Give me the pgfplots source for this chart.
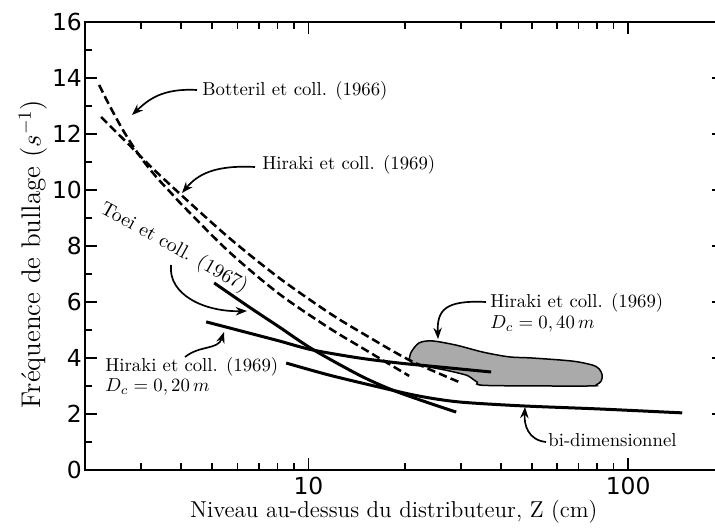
\documentclass[border=0pt]{standalone}
\usepackage{fontspec}
\usepackage{pgfplots}
\pgfplotsset{compat=1.18}
\usetikzlibrary{arrows.meta}
\newfontfamily\dejavu{DejaVu Sans}
\definecolor{blobgray}{RGB}{170,170,170}
\begin{document}
\begin{tikzpicture}
\begin{axis}[
  at={(0,0)}, anchor=south west,
  scale only axis, width=341.2pt, height=239.06pt,
  xmode=log, xmin=2, xmax=200, ymin=0, ymax=16,
  xtick={10,100}, xticklabels={10,100},
  minor xtick={3,4,5,6,7,8,9,20,30,40,50,60,70,80,90},
  ytick={0,2,...,16}, minor ytick={1,3,...,15},
  tick align=inside,
  major tick length=6.5pt, minor tick length=3.5pt,
  every tick/.style={black, line width=0.9pt},
  axis line style={line width=0.9pt},
  /pgf/number format/assume math mode=true,
  tick label style={font=\dejavu\fontsize{12.5}{14}\selectfont},
  yticklabel style={inner xsep=1.5pt},
  xlabel={Niveau au-dessus du distributeur, Z (cm)},
  ylabel={Fréquence de bullage ($s^{-1}$)},
  xlabel style={font=\fontsize{12.3}{15}\selectfont, at={(axis description cs:0.483,-0.0937)}, anchor=center},
  ylabel style={font=\fontsize{14.4}{17}\selectfont, at={(axis description cs:-0.0813,0.482)}, anchor=center},
]
% Hiraki et coll. (1969), D_c = 0,40 m (zone)
\addplot[fill=blobgray, draw=black, line width=0.8pt, smooth, tension=0.5] coordinates {
(20.65,3.93) (20.95,4.21) (22.19,4.54) (24.37,4.61) (28.97,4.46) (35.14,4.21)
(42.45,4.04) (50.09,4.0) (66.81,3.89) (77.18,3.75) (81.16,3.61) (82.92,3.39)
(82.33,3.18) (79.43,3.04) (74.44,3.0) (35.96,3.02) (33.71,3.14) (32.28,3.29) (31.14,3.39)
(27.55,3.54) (23.85,3.68) (21.10,3.82)} -- cycle;
% Botteril et coll. (1966)
\addplot[black, line width=1.35pt, dash pattern=on 4.5pt off 2.2pt, smooth] coordinates {
(2.214,13.75) (2.380,13.04) (2.595,12.25) (2.809,11.61) (3.062,11.0) (3.363,10.43)
(3.720,9.89) (4.085,9.39) (5.648,7.79) (8.095,6.29) (11.61,5.07) (14.72,4.36) (20.65,3.36)};
% Hiraki et coll. (1969)
\addplot[black, line width=1.35pt, dash pattern=on 4.5pt off 2.2pt, smooth] coordinates {
(2.246,12.61) (2.468,12.14) (2.750,11.61) (3.176,10.89) (3.940,9.89) (5.648,8.29)
(8.095,6.86) (11.61,5.61) (14.72,4.89) (20.65,3.93) (29.61,3.14)};
% Toei et coll. (1967)
\addplot[black, line width=1.6pt, smooth] coordinates {
(5.070,6.68) (6.524,5.82) (8.095,5.11) (10.27,4.32) (14.41,3.39) (18.27,2.86) (23.85,2.39) (28.97,2.07)};
% Hiraki et coll. (1969), D_c = 0,20 m
\addplot[black, line width=1.6pt, smooth] coordinates {
(4.786,5.29) (6.524,4.89) (8.095,4.61) (10.27,4.29) (14.41,4.0) (19.21,3.82) (25.64,3.68) (37.28,3.5)};
% bi-dimensionnel
\addplot[black, line width=1.6pt, smooth] coordinates {
(8.516,3.82) (11.61,3.39) (16.64,2.96) (22.19,2.64) (29.61,2.43) (46.62,2.29) (81.16,2.18) (147.6,2.04)};
\end{axis}
\begin{scope}[shift={(-45.36pt,250.80pt)}, x=0.53362pt, y=-0.53362pt,
  every node/.style={font=\fontsize{10}{12}\selectfont, inner sep=0pt},
  arr/.style={line width=0.9pt, -{Stealth[length=6pt,width=4.5pt]}}]
\node[anchor=west] at (202,91) {Botteril et coll. (1966)};
\draw[arr] (197,90) .. controls (162,88) and (148,100) .. (132,115);
\node[anchor=west] at (262,165) {Hiraki et coll. (1969)};
\draw[arr] (255,167) .. controls (215,165) and (198,174) .. (182,193);
\node[rotate=-29, font=\fontsize{10.5}{12}\selectfont] at (174,248) {Toei et coll. (1967)};
\draw[arr] (171,265) .. controls (168,295) and (205,312) .. (247,311);
\node[anchor=west] at (105,367) {Hiraki et coll. (1969)};
\node[anchor=west] at (105,387) {$D_c=0,20\,m$};
\draw[arr] (185,357) .. controls (200,345) and (218,350) .. (224,332);
\node[anchor=west] at (490,303) {Hiraki et coll. (1969)};
\node[anchor=west] at (490,324) {$D_c=0,40\,m$};
\draw[arr] (486,302) .. controls (445,300) and (437,310) .. (438,339);
\node[anchor=west] at (548,440) {bi-dimensionnel};
\draw[arr] (546,442) .. controls (528,440) and (524,425) .. (525,407);
\end{scope}
\pgfresetboundingbox
\useasboundingbox (-45.36pt,-30.42pt) rectangle (336.18pt,250.80pt);
\end{tikzpicture}
\end{document}
